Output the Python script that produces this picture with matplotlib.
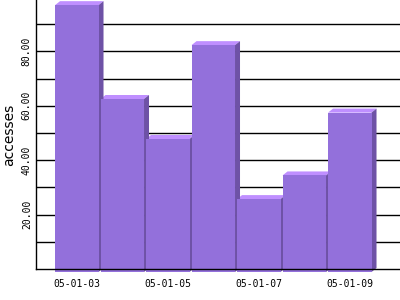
import matplotlib
matplotlib.use("Agg")
import matplotlib.pyplot as plt
from matplotlib.patches import Polygon

dates = ["05-01-03", "05-01-04", "05-01-05", "05-01-06", "05-01-07", "05-01-08", "05-01-09"]
accesses = [97.0, 62.5, 47.8, 82.3, 25.7, 34.4, 57.5]
ytick_values = [20, 40, 60, 80]
grid_values = [10, 20, 30, 40, 50, 60, 70, 80, 90]

front = "#9370DB"
top_c = "#BF8FFF"
side_c = "#6E52A6"

fig = plt.figure(figsize=(4, 3), dpi=100)
ax = fig.add_axes([0.09, 0.1033, 0.91, 0.8967])
ax.set_xlim(-0.896, 7.104)
ax.set_ylim(0, 98.9)

w = 0.956
dx = 5 / 45.5
dy = 4 / 2.72
base = -1.1  # bars drawn slightly below the axis line, as in the reference
x = list(range(len(accesses)))

for g in grid_values:
    ax.axhline(g, color="black", lw=1.0, zorder=1)

for xi, h in zip(x, accesses):
    l = xi - w / 2
    r = xi + w / 2
    ax.add_patch(Polygon([(l, h), (r, h), (r + dx, h + dy), (l + dx, h + dy)],
                         closed=True, facecolor=top_c, edgecolor="none", zorder=2, clip_on=False))
for xi, h in zip(x, accesses):
    r = xi + w / 2
    ax.add_patch(Polygon([(r, base), (r, h), (r + dx, h + dy), (r + dx, base + dy)],
                         closed=True, facecolor=side_c, edgecolor="none", zorder=3, clip_on=False))
bars = ax.bar(x, [h - base for h in accesses], bottom=base, width=w, color=front,
              edgecolor="none", zorder=4)
for b in bars:
    b.set_clip_on(False)

for s in ["top", "right"]:
    ax.spines[s].set_visible(False)
for s in ["left", "bottom"]:
    ax.spines[s].set_linewidth(1.0)
    ax.spines[s].set_color("black")
    ax.spines[s].set_zorder(5)

ax.set_yticks(ytick_values)
ax.set_yticklabels(["%.2f" % v for v in ytick_values], rotation=90, va="center",
                   family="DejaVu Sans Mono", fontsize=7)
ax.tick_params(axis="y", length=0, pad=3)
ax.set_xticks(x[::2])
ax.set_xticklabels(dates[::2], family="DejaVu Sans Mono", fontsize=7)
ax.tick_params(axis="x", length=0, pad=7)
ax.set_ylabel("accesses", fontsize=10)
ax.yaxis.set_label_coords(-0.074, 0.5)
ax.yaxis.label.set_va("center")

fig.savefig("out.png", dpi=100)
